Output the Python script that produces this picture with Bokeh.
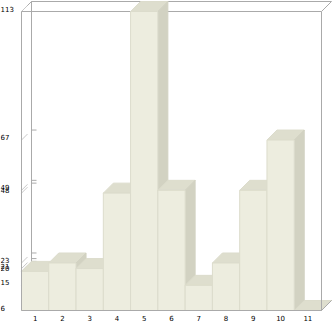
from bokeh.plotting import figure
from bokeh.models import Range1d
from bokeh.core.properties import value
from bokeh.embed import file_html
from bokeh.resources import INLINE

# ---- data ----
categories = ["1", "2", "3", "4", "5", "6", "7", "8", "9", "10", "11"]
values = [20, 23, 21, 48, 113, 49, 15, 23, 49, 67, 6]
ytick_values = [6, 15, 20, 21, 23, 48, 49, 67, 113]
ytick_labels = ["6", "15", "20", "21", "23", "48", "49", "67", "113"]

# ---- geometry / style ----
W, H = 333, 321
n = len(categories)
y_base, y_top = 6, 113
kx = 300.0 / n            # px per category
ky = 299.0 / (y_top - y_base)
x0 = -21.0 / kx
x1 = x0 + W / kx
y0 = y_base - 11.0 / ky
y1 = y0 + H / ky
DX = 10.0 / kx
DY = 10.0 / ky

FRONT = "#EDEDDF"
TOP = "#DEDECE"
SIDE = "#D2D2C2"
EDGE = "#DCDCCC"
FRAME = "#AAAAAA"
FONT = value("DejaVu Sans")

p = figure(width=W, height=H, x_range=Range1d(x0, x1), y_range=Range1d(y0, y1),
           output_backend="svg", toolbar_location=None, min_border=0,
           x_axis_location=None, y_axis_location=None)
p.grid.visible = False
p.outline_line_color = None
p.background_fill_color = "white"
p.border_fill_color = "white"

# back wall & frame (under bars)
p.segment(x0=[DX, DX, 0, n, 0], y0=[y_base + DY, y_top + DY, y_top, y_top, y_top],
          x1=[DX, n + DX, n, n + DX, DX], y1=[y_top + DY, y_top + DY, y_top, y_top + DY, y_top + DY],
          line_color=FRAME, line_width=1)
p.segment(x0=[DX, 0], y0=[y_base + DY, y_base], x1=[n + DX, DX], y1=[y_base + DY, y_base + DY],
          line_color=FRAME, line_width=1)

# ticks on back wall and guide diagonals
p.segment(x0=[DX] * len(ytick_values), y0=[v + DY for v in ytick_values],
          x1=[DX + 5.0 / kx] * len(ytick_values), y1=[v + DY for v in ytick_values],
          line_color=FRAME, line_width=1)
p.segment(x0=[0] * len(ytick_values), y0=ytick_values,
          x1=[0.6 * DX] * len(ytick_values), y1=[v + 0.6 * DY for v in ytick_values],
          line_color="#C8C8C8", line_width=1)

# bars, drawn left to right
for i, v in enumerate(values):
    l, r = i, i + 1
    p.patch([l, l + DX, r + DX, r], [v, v + DY, v + DY, v],
            fill_color=TOP, line_color=EDGE, line_width=1)
    p.patch([r, r, r + DX, r + DX], [y_base, v, v + DY, y_base + DY],
            fill_color=SIDE, line_color=SIDE, line_width=1)
    if v > y_base:
        p.quad(left=[l], right=[r], bottom=[y_base], top=[v],
               fill_color=FRONT, line_color=EDGE, line_width=1)

# front frame edges on top
p.segment(x0=[0, 0, n, n], y0=[y_base, y_base, y_base, y_base],
          x1=[0, n, n, n + DX], y1=[y_top, y_base, y_top, y_base + DY],
          line_color=FRAME, line_width=1)

# y labels (left aligned at the page edge)
p.text(x=[x0] * len(ytick_values), y=ytick_values, text=ytick_labels,
       text_align="left", text_baseline="middle", y_offset=-3,
       text_font=FONT, text_font_size="7px", text_color="#000000")

# x labels
p.text(x=[i + 0.5 for i in range(n)], y=[y_base] * n, text=categories,
       text_align="center", text_baseline="middle", y_offset=7,
       text_font=FONT, text_font_size="7px", text_color="#000000")

open("out.html", "w").write(file_html(p, INLINE))
